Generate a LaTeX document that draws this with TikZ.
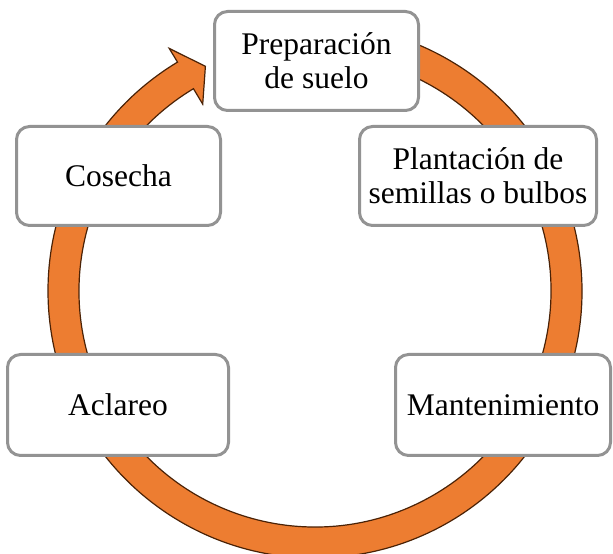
\documentclass[tikz,border=0pt]{standalone}
\usepackage{fontspec}
\setmainfont{Liberation Serif}
\definecolor{ringfill}{HTML}{ED7D31}
\definecolor{ringedge}{HTML}{4A2206}
\definecolor{boxedge}{HTML}{939393}
\begin{document}
\begin{tikzpicture}[x=1pt,y=1pt,
  stagebox/.style={draw=boxedge, line width=3pt, fill=white, rounded corners=13pt,
    align=center, inner sep=0pt, font=\fontsize{31.5}{34}\selectfont},
  ringstyle/.style={fill=ringfill, draw=ringedge, line width=1.2pt, line join=miter}]
\useasboundingbox (0,0) rectangle (613,554);
% cycle arrow
\begin{scope}[shift={(315,263)}]
\path[ringstyle] (95:267pt) arc[start angle=95, end angle=-239, radius=267pt]
  -- (-239:283pt) -- (-244:250pt) -- (-239:218pt) -- (-239:236pt)
  arc[start angle=-239, end angle=95, radius=236pt] -- cycle;
\end{scope}
% stages
\node[stagebox, minimum width=204pt, minimum height=99pt] (prep) at (316.5,493) {Preparación\\de suelo};
\node[stagebox, minimum width=237pt, minimum height=99pt] (plant) at (478,378) {Plantación de\\semillas o bulbos};
\node[stagebox, minimum width=215pt, minimum height=101pt] (mant) at (503,149) {Mantenimiento};
\node[stagebox, minimum width=221pt, minimum height=101pt] (acla) at (118,149) {Aclareo};
\node[stagebox, minimum width=204pt, minimum height=99pt] (cose) at (118.5,378) {Cosecha};
\end{tikzpicture}
\end{document}
